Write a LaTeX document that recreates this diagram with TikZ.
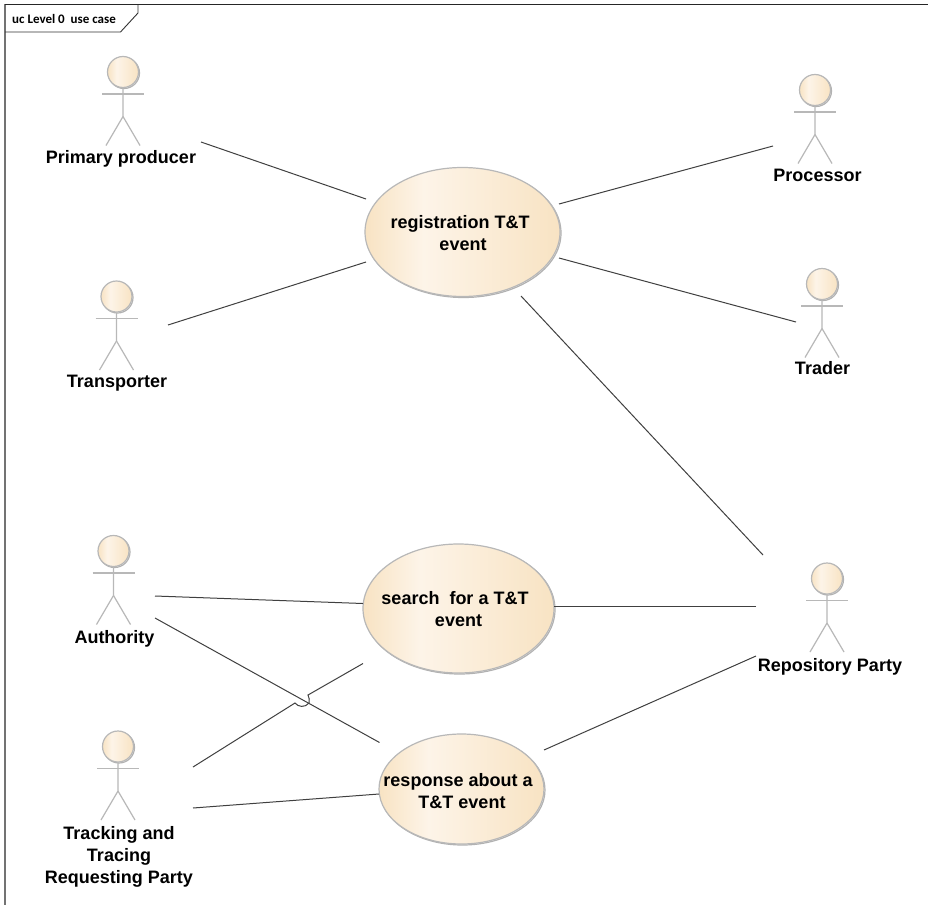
\documentclass[tikz,border=0pt]{standalone}
\usepackage{fontspec}
\setmainfont{Liberation Sans}
\newfontfamily\tabfont{Carlito}
\usetikzlibrary{shapes.geometric}
\definecolor{ucedge}{HTML}{F8E3C3}
\definecolor{ucmid}{HTML}{FDF4E8}
\definecolor{ucline}{HTML}{404040}
\definecolor{ucgray}{HTML}{B8B8B8}
\pgfdeclarehorizontalshading{ucshade}{100bp}{color(0bp)=(ucedge); color(25bp)=(ucedge); color(40bp)=(ucmid); color(75bp)=(ucedge); color(100bp)=(ucedge)}
\tikzset{
  x=1pt,y=-1pt,
  assoc/.style={draw=ucline,line width=1pt},
  usecase/.style={ellipse,draw=ucgray,line width=1.2pt,shading=ucshade,inner sep=0pt,
     preaction={draw=black!30,line width=1.2pt,transform canvas={xshift=1pt,yshift=-1pt}}},
  uctext/.style={align=center,inner sep=0pt,font=\fontsize{18}{22}\selectfont\bfseries,text=black},
  actorhead/.style={circle,draw=ucgray,line width=1.2pt,shading=ucshade,minimum size=31pt,inner sep=0pt,
     preaction={draw=black!30,line width=1.2pt,transform canvas={xshift=1pt,yshift=-1pt}}},
  actorlimb/.style={draw=ucgray,line width=1.2pt},
  actorlabel/.style={align=center,inner sep=0pt,font=\fontsize{18}{22}\selectfont\bfseries,text=black},
}
\newcommand{\ucactor}[6]{% name, headx, heady, text, labelx, labely
  \node[actorhead] (#1) at (#2,#3) {};
  \draw[actorlimb] (#2-21,#3+22) -- (#2+21,#3+22);
  \draw[actorlimb] (#1.south) -- (#2,#3+44.5) -- (#2-17,#3+73.5);
  \draw[actorlimb] (#2,#3+44.5) -- (#2+17,#3+73.5);
  \node[actorlabel] (#1label) at (#5,#6) {#4};
}
\begin{document}
\begin{tikzpicture}
\useasboundingbox (0,0) rectangle (928,905);
\fill[white] (0,0) rectangle (928,905);
% frame
\draw[draw=gray!90!black,line width=1.6pt] (5,4) -- (5,905);
\draw[draw=black!85,line width=.9pt] (5,4.5) -- (928,4.5);
\draw[draw=black!80,line width=.9pt] (138,4.5) -- (138,13) -- (120.5,32) -- (5,32);
\node[anchor=west,inner sep=0pt,font=\tabfont\fontsize{13}{15}\selectfont\bfseries] (frametitle) at (12,19) {uc Level 0\ \ use case};
% use cases
\node[usecase,minimum width=195pt,minimum height=129pt] (reg) at (462.5,232) {};
\node[uctext] (regtext) at (460,233) {registration T\&T\\\hspace*{6pt}event};
\node[usecase,minimum width=191pt,minimum height=129pt] (search) at (458.5,608.5) {};
\node[uctext] (searchtext) at (455,609) {search\ \ for a T\&T\\\hspace*{7pt}event};
\node[usecase,minimum width=165pt,minimum height=110pt] (resp) at (461.5,789) {};
\node[uctext] (resptext) at (458,791) {response about a\\\hspace*{8pt}T\&T event};
% actors
\ucactor{prim}{123}{72}{Primary producer}{121}{159}
\ucactor{trans}{116.5}{296.5}{Transporter}{117}{383}
\ucactor{proc}{815}{90}{Processor}{817.5}{175}
\ucactor{trader}{822}{284}{Trader}{822.5}{368.5}
\ucactor{auth}{113.5}{551}{Authority}{114.5}{639}
\ucactor{track}{118}{746.5}{Tracking and\\Tracing\\Requesting Party}{119}{857}
\ucactor{repo}{827}{578.5}{Repository Party}{830}{667}
% connector ends
\coordinate (a1) at (201,142); \coordinate (r1) at (366,199);
\coordinate (a2) at (168,325); \coordinate (r2) at (366,262);
\coordinate (a3) at (773,146); \coordinate (r3) at (559,204);
\coordinate (a4) at (796,322); \coordinate (r4) at (559,258);
\coordinate (a5) at (763,555); \coordinate (r5) at (521,296);
\coordinate (a6) at (155,596); \coordinate (s6) at (363,603.5);
\coordinate (a7) at (756,606); \coordinate (s7) at (554,606);
\coordinate (a8) at (155,618); \coordinate (q8) at (379.5,742.5);
\coordinate (a9) at (193,767); \coordinate (j1) at (295,703); \coordinate (j2) at (309,703); \coordinate (j3) at (308,695); \coordinate (s9) at (363,663.5);
\coordinate (a10) at (193,808); \coordinate (q10) at (379,794);
\coordinate (a11) at (756,656); \coordinate (q11) at (544,750);
\draw[assoc] (a1) -- (r1);
\draw[assoc] (a2) -- (r2);
\draw[assoc] (a3) -- (r3);
\draw[assoc] (a4) -- (r4);
\draw[assoc] (a5) -- (r5);
\draw[assoc] (a6) -- (s6);
\draw[assoc] (a7) -- (s7);
\draw[assoc] (a8) -- (q8);
\draw[assoc] (a9) -- (j1) .. controls (298,707) and (305,708) .. (j2) .. controls (310,700) and (309,698) .. (j3) -- (s9);
\draw[assoc] (a10) -- (q10);
\draw[assoc] (a11) -- (q11);
\end{tikzpicture}
\end{document}
